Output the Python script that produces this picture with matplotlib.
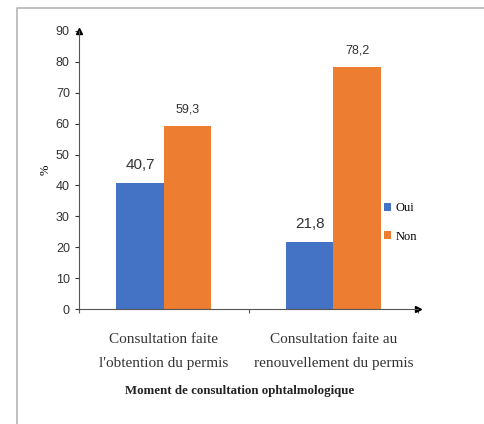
import numpy as np
import matplotlib.pyplot as plt
from matplotlib.lines import Line2D

categories = ["Consultation faite\nl'obtention du permis",
              "Consultation faite au\nrenouvellement du permis"]
oui = [40.7, 21.8]
non = [59.3, 78.2]
series_names = ['Oui', 'Non']
colors = ['#4472C4', '#ED7D31']

serif = ['Liberation Serif', 'DejaVu Serif']
narrow = ['Liberation Sans Narrow', 'Liberation Sans', 'DejaVu Sans']

fig = plt.figure(figsize=(4.84, 4.24), dpi=100)
ax = fig.add_axes([0.163, 0.271, 0.701, 0.656])

x = np.arange(len(categories))
w = 0.28
b1 = ax.bar(x - w / 2, oui, w, color=colors[0], label=series_names[0])
b2 = ax.bar(x + w / 2, non, w, color=colors[1], label=series_names[1])

# etiquettes de valeurs
for bars, fs in [(b1, 11), (b2, 9)]:
    for r in bars:
        v = r.get_height()
        ax.text(r.get_x() + r.get_width() / 2, v + 3.5, f'{v:.1f}'.replace('.', ','),
                ha='center', va='bottom', fontsize=fs, family=narrow, color='#333333')

ax.set_xlim(-0.5, 1.5)
ax.set_ylim(0, 90)
ax.set_yticks(range(0, 91, 10))
ax.set_xticks([-0.5, 0.5, 1.5])
ax.set_xticklabels([])
ax.tick_params(axis='y', length=3, labelsize=9, colors='#333333')
ax.tick_params(axis='x', length=3, colors='#555555')
for lab in ax.get_yticklabels():
    lab.set_family(narrow)

for s in ['top', 'right']:
    ax.spines[s].set_visible(False)
for s in ['left', 'bottom']:
    ax.spines[s].set_color('#555555')

# fleches
ax.plot(0, 1, '^', color='black', markersize=5, transform=ax.transAxes, clip_on=False)
ax.plot(1, 0, '>', color='black', markersize=5, transform=ax.transAxes, clip_on=False)

for xi, lab in zip(x, categories):
    ax.text(xi, -7.8, lab, ha='center', va='top', fontsize=11, family=serif,
            color='#333333', linespacing=2.1)

ax.set_ylabel('%', fontsize=9, family=serif, labelpad=3)
fig.text(0.495, 0.078, 'Moment de consultation ophtalmologique', ha='center', va='center',
         fontsize=9.3, fontweight='bold', family=serif, color='#222222')

leg = fig.legend(handles=[b1, b2], loc='center left', bbox_to_anchor=(0.77, 0.475),
                 frameon=False, prop={'family': serif, 'size': 9},
                 handlelength=0.6, handleheight=0.6, handletextpad=0.3, labelspacing=1.3)

# cadre
fig.add_artist(Line2D([0.035, 0.035, 1.05], [0.0, 0.981, 0.981], transform=fig.transFigure,
                      color='#b5b5b5', lw=1.2))

fig.savefig('out.png', dpi=100)
